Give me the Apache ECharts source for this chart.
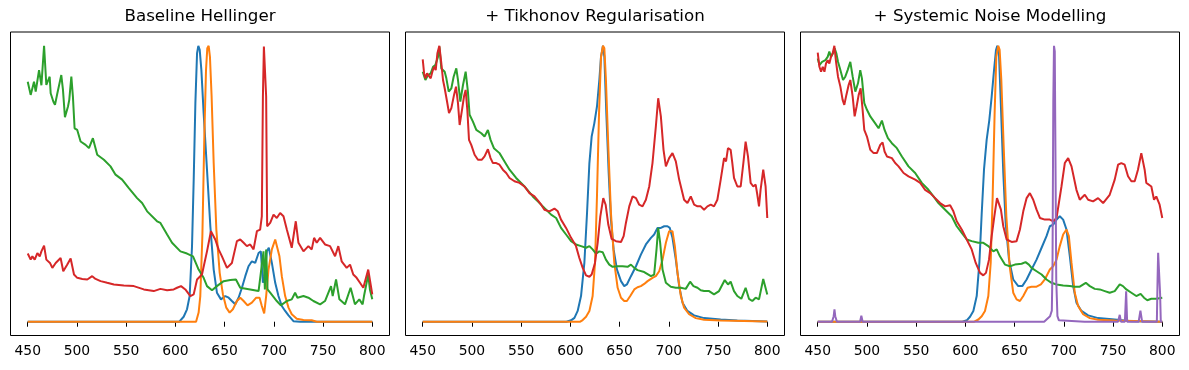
<!DOCTYPE html>
<html>
<head>
<meta charset="utf-8">
<title>Spectra</title>
<script src="https://cdn.jsdelivr.net/npm/echarts@6/dist/echarts.min.js"></script>
<style>
  html, body { margin: 0; padding: 0; background: #fff; }
  #chart { width: 1189px; height: 370px; }
</style>
</head>
<body>
<div id="chart"></div>
<script>
// tick labels and titles
const wlTicks = [450, 500, 550, 600, 650, 700, 750, 800];
const titles = ["Baseline Hellinger", "+ Tikhonov Regularisation", "+ Systemic Noise Modelling"];

// panel 1 : baseline hellinger  ([wavelength, normalised intensity])
const baseBlue = [[450,0],[604,0],[605.1,0.006],[608.4,0.018],[611.8,0.045],[614.5,0.093],[616.9,0.274],[618.6,0.515],[620.3,0.792],[622,0.973],[623.3,1],[624.7,0.985],[626.4,0.912],[628.7,0.756],[632.1,0.551],[635.5,0.346],[638.9,0.189],[642.2,0.105],[646.3,0.081],[650.7,0.093],[654.1,0.087],[657.4,0.075],[660.8,0.063],[664.2,0.087],[667.6,0.123],[671,0.165],[674.3,0.201],[677.7,0.219],[681.1,0.213],[684.5,0.249],[686.8,0.255],[688.9,0.141],[690.5,0.165],[692.9,0.255],[694.9,0.268],[698,0.213],[701.4,0.141],[704.7,0.093],[708.1,0.057],[711.5,0.039],[714.9,0.023],[719.9,0.002],[726.7,0],[800,0]];
const baseOrange = [[450,0],[621,0],[622,0.006],[623.6,0.033],[625.3,0.093],[627.4,0.31],[629.4,0.671],[631.1,0.912],[632.4,0.991],[633.8,1],[635.1,0.96],[636.8,0.816],[638.9,0.575],[641.6,0.334],[645,0.177],[648.3,0.099],[651.7,0.051],[655.1,0.033],[658.4,0.045],[662.5,0.075],[665.9,0.087],[669.3,0.075],[673.3,0.059],[677.7,0.069],[682.1,0.087],[685.5,0.087],[687.8,0.057],[690.2,0.03],[692.2,0.093],[694.6,0.189],[698,0.262],[701.4,0.298],[703,0.3],[705.7,0.237],[708.1,0.165],[711.5,0.093],[714.9,0.051],[718.2,0.027],[723.3,0.011],[730.1,0.006],[738.5,0.005],[743.6,0],[800,0]];
const baseGreen = [[450,0.87],[453,0.822],[456.4,0.87],[458.1,0.834],[461.5,0.912],[463.9,0.857],[466.6,1],[468.9,0.858],[472.3,0.888],[473.3,0.828],[476,0.798],[477.7,0.786],[480.1,0.828],[481.8,0.822],[484.1,0.894],[485.8,0.84],[487.8,0.741],[490.9,0.78],[492.2,0.804],[494.3,0.888],[495.9,0.816],[497.6,0.701],[500.3,0.695],[503.7,0.653],[508.8,0.641],[512.2,0.629],[516.2,0.665],[520.6,0.605],[527.4,0.587],[534.1,0.563],[539.2,0.533],[545.9,0.515],[552.7,0.484],[561.1,0.448],[566.2,0.43],[571.3,0.4],[581.4,0.364],[584.8,0.358],[591.6,0.316],[596.6,0.286],[605.1,0.255],[611.8,0.247],[617.9,0.237],[623.6,0.189],[628.7,0.159],[632.1,0.129],[637.2,0.114],[642.2,0.129],[649,0.147],[655.7,0.151],[661.5,0.153],[665.9,0.123],[676,0.117],[684.5,0.111],[689.5,0.255],[690.9,0.117],[692.2,0.262],[693.6,0.117],[696.3,0.105],[703,0.075],[707.1,0.059],[713.2,0.075],[718.2,0.081],[721.6,0.105],[724,0.087],[730.1,0.093],[735.1,0.087],[740.2,0.075],[747,0.063],[752,0.075],[758.1,0.129],[759.8,0.093],[763.2,0.153],[766.6,0.081],[772.3,0.063],[778,0.123],[782.4,0.063],[786.8,0.081],[788.2,0.087],[790.2,0.063],[791.6,0.093],[795.9,0.171],[797.6,0.117],[800,0.081]];
const baseRed = [[450,0.247],[453,0.225],[454.7,0.237],[457.1,0.225],[459.8,0.249],[462.2,0.237],[463.9,0.255],[466.6,0.276],[468.9,0.225],[470.9,0.231],[472.6,0.213],[475,0.195],[478.4,0.213],[483.4,0.231],[486.1,0.183],[490.2,0.207],[493.6,0.229],[497,0.171],[500.3,0.159],[505.4,0.155],[510.5,0.153],[515.5,0.165],[518.9,0.155],[524,0.147],[530.7,0.141],[537.5,0.135],[547.6,0.131],[557.8,0.129],[567.9,0.117],[578,0.111],[584.8,0.119],[591.6,0.114],[598.3,0.117],[601.7,0.123],[605.7,0.129],[610.1,0.117],[615.2,0.093],[618.6,0.099],[622,0.153],[627,0.171],[632.1,0.255],[636.1,0.328],[640.5,0.298],[643.9,0.262],[647.3,0.237],[652.4,0.195],[657.4,0.213],[662.5,0.292],[665.9,0.298],[669.3,0.286],[672.6,0.274],[676,0.28],[679.4,0.262],[682.8,0.328],[686.1,0.334],[687.8,0.382],[688.9,0.816],[689.9,0.997],[691.2,0.997],[692.2,0.816],[693.2,0.346],[696.3,0.358],[699.7,0.388],[703,0.376],[706.4,0.394],[709.8,0.382],[713.2,0.334],[718.2,0.268],[722.3,0.364],[725,0.286],[730.1,0.255],[735.1,0.274],[738.5,0.262],[740.9,0.304],[743.6,0.286],[747,0.304],[752,0.28],[757.1,0.274],[762.2,0.237],[765.5,0.274],[768.9,0.219],[774,0.195],[777.4,0.207],[780.7,0.171],[784.1,0.159],[787.5,0.141],[790.9,0.123],[795.9,0.189],[800,0.099]];

// panel 2 : + tikhonov
const tikBlue = [[450,0],[596,0],[600.7,0.005],[604.1,0.014],[607.4,0.039],[610.8,0.093],[614.2,0.213],[616.9,0.394],[619.3,0.575],[621.6,0.671],[624.3,0.719],[627,0.78],[629.4,0.876],[631.1,0.96],[633.1,1],[634.5,0.96],[636.5,0.756],[638.9,0.539],[641.2,0.37],[643.9,0.262],[647.3,0.189],[651.4,0.147],[654.7,0.129],[657.4,0.135],[661.5,0.165],[666.6,0.201],[671.6,0.243],[676.7,0.28],[681.8,0.304],[685.1,0.316],[688.5,0.34],[691.9,0.34],[695.3,0.346],[698.6,0.346],[701,0.34],[703.7,0.304],[707.1,0.225],[710.5,0.129],[713.9,0.069],[718.9,0.039],[725.7,0.023],[735.8,0.013],[752.7,0.008],[769.6,0.004],[800,0.001]];
const tikOrange = [[450,0],[610,0],[612.5,0.006],[615.9,0.018],[619.3,0.039],[622.6,0.093],[625,0.213],[627,0.454],[629.1,0.756],[631.1,0.96],[633.1,1],[634.5,0.991],[636.1,0.876],[638.5,0.635],[641.2,0.394],[644.6,0.213],[648,0.123],[651.4,0.087],[654.7,0.075],[657.4,0.075],[660.8,0.093],[664.9,0.117],[668.2,0.125],[671.6,0.129],[675,0.137],[678.4,0.147],[683.4,0.159],[686.8,0.165],[690.2,0.183],[693.6,0.225],[697,0.286],[700.3,0.328],[702,0.334],[703.7,0.328],[706.1,0.274],[708.8,0.177],[712.2,0.093],[715.5,0.051],[720.6,0.027],[727.4,0.013],[735.8,0.007],[752.7,0.004],[800,0.001]];
const tikGreen = [[450,0.906],[452.7,0.876],[455.4,0.894],[458.1,0.9],[460.5,0.924],[462.8,0.93],[465.5,0.96],[466.9,0.997],[468.9,0.918],[472.3,0.906],[474,0.882],[476.4,0.834],[479.1,0.846],[481.4,0.888],[484.1,0.918],[485.8,0.876],[488.2,0.798],[490.9,0.858],[493.6,0.906],[495.9,0.834],[497.6,0.75],[501,0.725],[504.4,0.695],[509.5,0.683],[512.8,0.671],[516.2,0.695],[518.9,0.659],[522.3,0.629],[528,0.611],[533.1,0.581],[538.2,0.551],[544.9,0.521],[553.4,0.49],[561.8,0.454],[566.9,0.436],[573.6,0.412],[580.4,0.388],[585.5,0.376],[590.5,0.34],[595.6,0.316],[600.7,0.292],[605.7,0.28],[610.8,0.274],[615.9,0.268],[619.3,0.274],[622.6,0.262],[626,0.247],[629.4,0.255],[632.8,0.252],[636.1,0.225],[639.5,0.207],[642.9,0.199],[648,0.201],[653,0.201],[658.1,0.199],[661.5,0.207],[664.9,0.195],[668.2,0.187],[675,0.18],[681.8,0.165],[685.1,0.171],[687.5,0.262],[689.2,0.34],[691.2,0.286],[693.6,0.189],[697,0.141],[702,0.127],[707.1,0.123],[712.2,0.123],[717.2,0.119],[721.6,0.145],[725,0.129],[729.1,0.123],[732.4,0.114],[735.8,0.111],[740.9,0.111],[745.9,0.099],[751,0.111],[756.8,0.151],[760.1,0.135],[762.8,0.145],[766.2,0.111],[769.6,0.093],[773.6,0.083],[778,0.123],[781.4,0.083],[784.8,0.075],[788.2,0.087],[791.6,0.081],[795.9,0.155],[800,0.099]];
const tikRed = [[450,0.951],[451.4,0.9],[452.7,0.882],[454.4,0.9],[456.1,0.9],[458.1,0.882],[459.8,0.906],[461.5,0.924],[463.2,0.912],[464.9,0.973],[466.9,1],[468.9,0.936],[470.6,0.876],[472.3,0.846],[474.7,0.798],[476.7,0.756],[479.1,0.774],[481.8,0.822],[483.8,0.852],[485.8,0.792],[487.5,0.713],[489.9,0.768],[491.9,0.816],[493.6,0.84],[495.3,0.768],[497,0.659],[499.3,0.641],[502.7,0.605],[506.1,0.587],[510.1,0.587],[512.8,0.599],[516.2,0.625],[518.9,0.593],[521.3,0.575],[524.7,0.575],[528,0.569],[531.4,0.551],[534.8,0.539],[538.2,0.521],[543.2,0.509],[548.3,0.503],[553.4,0.49],[558.4,0.466],[563.5,0.454],[566.9,0.44],[570.3,0.424],[573.6,0.406],[578.7,0.4],[583.8,0.41],[587.2,0.4],[590.5,0.37],[595.6,0.34],[600.7,0.304],[605.7,0.274],[609.1,0.231],[612.5,0.195],[615.9,0.168],[619.3,0.163],[621.6,0.171],[625,0.213],[627.7,0.286],[630.4,0.382],[633.4,0.448],[635.8,0.424],[638.5,0.352],[641.9,0.3],[646.3,0.292],[651.4,0.289],[654.1,0.31],[656.4,0.358],[659.8,0.418],[663.2,0.454],[666.6,0.448],[669.9,0.424],[673.3,0.418],[676.7,0.442],[680.1,0.49],[683.4,0.575],[686.8,0.707],[689.2,0.81],[691.9,0.744],[694.6,0.623],[697,0.563],[700.3,0.593],[703.7,0.611],[707.1,0.581],[710.5,0.515],[715.5,0.442],[718.9,0.43],[722.3,0.454],[725.7,0.424],[729.1,0.418],[732.4,0.418],[735.8,0.406],[739.2,0.418],[742.6,0.424],[745.9,0.418],[749.3,0.442],[752.7,0.515],[756.1,0.593],[758.1,0.581],[760.1,0.629],[762.8,0.623],[764.5,0.575],[766.2,0.521],[769.6,0.49],[773,0.49],[775.7,0.575],[778,0.653],[780.4,0.599],[783.1,0.503],[785.8,0.49],[788.2,0.497],[789.9,0.46],[791.6,0.418],[793.2,0.478],[795.9,0.551],[798.3,0.49],[800,0.376]];

// panel 3 : + systemic noise
const sysBlue = [[450,0],[597,0],[601.4,0.005],[604.7,0.018],[608.1,0.039],[611.5,0.093],[614.2,0.213],[616.6,0.394],[618.9,0.551],[621.6,0.659],[624.3,0.731],[626.7,0.816],[629.1,0.912],[631.1,0.985],[632.4,1],[634.1,0.973],[636.1,0.78],[638.5,0.539],[640.9,0.358],[644.3,0.225],[648.6,0.153],[653.7,0.129],[657.8,0.129],[662.2,0.153],[667.2,0.189],[672.3,0.225],[677.4,0.268],[682.4,0.31],[685.8,0.346],[689.2,0.352],[692.6,0.37],[695.9,0.382],[699.3,0.37],[702.7,0.334],[706.1,0.237],[709.5,0.129],[712.8,0.069],[717.9,0.039],[724.7,0.023],[734.8,0.013],[751.7,0.008],[768.6,0.002],[800,0]];
const sysOrange = [[450,0],[609,0],[613.2,0.008],[616.6,0.02],[619.9,0.039],[623.3,0.093],[625.7,0.213],[627.7,0.454],[629.7,0.756],[631.4,0.96],[633.4,1],[634.8,0.985],[636.5,0.876],[638.9,0.635],[641.6,0.382],[645,0.201],[648.6,0.105],[652,0.081],[655.4,0.075],[658.8,0.093],[663.2,0.123],[667.2,0.127],[672.3,0.127],[676.7,0.135],[680.7,0.153],[685.8,0.189],[689.2,0.201],[692.6,0.225],[695.9,0.274],[699.3,0.316],[702.7,0.334],[705.1,0.31],[707.8,0.213],[711.1,0.105],[714.5,0.057],[719.6,0.027],[726.4,0.013],[734.8,0.007],[751.7,0.004],[800,0]];
const sysGreen = [[450,0.954],[451.7,0.93],[454.4,0.942],[456.1,0.936],[457.8,0.948],[460.1,0.96],[461.8,0.979],[463.5,0.96],[465.5,0.973],[467.2,0.991],[468.9,0.973],[470.6,0.942],[473,0.912],[475.7,0.876],[478,0.888],[480.4,0.912],[483.1,0.942],[485.5,0.888],[488.2,0.834],[490.9,0.864],[493.2,0.912],[494.9,0.882],[497.3,0.792],[500,0.768],[503.4,0.744],[508.4,0.719],[511.8,0.701],[515.2,0.729],[517.9,0.695],[521.3,0.665],[525.3,0.647],[530.4,0.629],[535.5,0.599],[542.2,0.563],[549,0.539],[555.7,0.503],[562.5,0.478],[567.6,0.454],[572.6,0.43],[579.4,0.406],[586.1,0.382],[591.2,0.346],[596.3,0.322],[601.4,0.298],[606.4,0.292],[613.2,0.286],[618.2,0.286],[623.3,0.274],[628.4,0.255],[631.8,0.262],[635.1,0.237],[640.2,0.207],[645.3,0.201],[650.3,0.207],[657.1,0.21],[661.1,0.216],[664.5,0.207],[667.2,0.195],[672.3,0.183],[677.4,0.171],[682.4,0.153],[687.5,0.141],[692.6,0.135],[699.3,0.131],[706.1,0.129],[711.1,0.127],[716.2,0.127],[722.3,0.141],[726.4,0.129],[731.4,0.119],[736.5,0.117],[741.6,0.111],[746.6,0.105],[751.7,0.111],[756.8,0.135],[760.1,0.129],[763.5,0.117],[768.6,0.105],[773.6,0.093],[778,0.101],[781.4,0.087],[784.8,0.078],[788.9,0.083],[793.9,0.083],[800,0.087]];
const sysRed = [[450,0.975],[451.7,0.924],[453.4,0.906],[455.1,0.924],[456.8,0.906],[458.4,0.936],[460.1,0.948],[461.8,0.936],[463.5,0.96],[465.2,0.973],[466.9,1],[468.6,0.942],[470.6,0.888],[473,0.852],[475.3,0.804],[477,0.786],[479.1,0.822],[481.4,0.858],[483.1,0.876],[485.5,0.816],[487.5,0.744],[489.5,0.78],[491.6,0.822],[493.6,0.846],[495.6,0.768],[497.3,0.695],[500,0.671],[503.4,0.623],[506.8,0.611],[510.1,0.611],[513.5,0.641],[515.9,0.65],[517.9,0.617],[520.3,0.599],[525.3,0.593],[528.7,0.575],[532.1,0.563],[537.2,0.539],[542.2,0.527],[549,0.515],[554.1,0.503],[559.1,0.478],[564.2,0.466],[569.3,0.448],[574.3,0.43],[579.4,0.418],[584.5,0.422],[587.8,0.4],[591.2,0.364],[596.3,0.334],[599.7,0.31],[603,0.286],[606.4,0.262],[610.5,0.213],[614.9,0.177],[618.2,0.168],[620.9,0.177],[624,0.225],[626.7,0.31],[629.4,0.382],[632.1,0.448],[634.1,0.454],[636.1,0.406],[638.5,0.346],[641.9,0.298],[647,0.289],[652,0.292],[655.4,0.334],[658.8,0.4],[662.2,0.448],[665.5,0.466],[668.9,0.442],[672.3,0.406],[675.7,0.376],[680.7,0.37],[685.8,0.37],[689.2,0.364],[692.6,0.376],[697.6,0.49],[701,0.575],[704.4,0.593],[707.8,0.563],[712.8,0.478],[716.2,0.442],[721.3,0.46],[724.7,0.442],[729.7,0.436],[734.8,0.448],[739.9,0.43],[746.6,0.46],[751.7,0.515],[755.1,0.569],[758.4,0.575],[761.8,0.569],[765.2,0.527],[768.6,0.509],[772,0.509],[775.3,0.551],[778.7,0.611],[782.1,0.551],[783.8,0.503],[788.9,0.49],[791.6,0.442],[793.9,0.454],[797.3,0.424],[800,0.376]];
const sysPurple = [[450,0],[464.5,0],[466.2,0.02],[467,0.045],[467.8,0.02],[469.5,0],[483,0],[484,0.006],[485,0],[493,0],[494.3,0.022],[495.6,0],[680,0],[683,0.01],[686,0.02],[687.8,0.04],[688.5,0.2],[689.3,0.8],[690,1],[690.8,0.98],[691.5,0.6],[692.3,0.15],[693.5,0.02],[695,0.005],[697,0],[721,0],[722,0.006],[723,0],[755,0],[756.8,0.025],[758,0],[762,0],[763.3,0.11],[764.3,0],[776,0],[777.8,0.04],[779.5,0],[788,0],[789,0.006],[790,0],[794.5,0],[795.2,0.15],[795.8,0.25],[797,0.25],[797.8,0.1],[798.5,0],[800,0]];

const panels = [
  [baseBlue, baseOrange, baseGreen, baseRed],
  [tikBlue, tikOrange, tikGreen, tikRed],
  [sysBlue, sysOrange, sysGreen, sysRed, sysPurple]
];
const colors = ["#1f77b4", "#ff7f0e", "#2ca02c", "#d62728", "#9467bd"];

const lefts = [10.5, 405.5, 800.5];
const plotW = 379;

let grid = [], xAxis = [], yAxis = [], title = [], series = [];
panels.forEach((lines, i) => {
  grid.push({
    left: lefts[i], top: 32, width: plotW, height: 303.5,
    show: true, borderColor: "#000", borderWidth: 1, backgroundColor: "transparent"
  });
  title.push({
    text: titles[i],
    left: lefts[i] + plotW / 2, top: 8, textAlign: "center", padding: 0,
    textStyle: { fontFamily: "DejaVu Sans", fontSize: 16.7, fontWeight: "normal", color: "#000" }
  });
  xAxis.push({
    type: "value", gridIndex: i, min: 432.5, max: 817.5,
    axisLine: { show: false },
    splitLine: { show: false },
    axisTick: { show: true, length: 5, lineStyle: { color: "#000", width: 1 }, customValues: wlTicks },
    axisLabel: {
      customValues: wlTicks, margin: 9,
      fontFamily: "DejaVu Sans", fontSize: 13.9, color: "#000"
    }
  });
  yAxis.push({
    type: "value", gridIndex: i, min: -0.05, max: 1.05,
    axisLine: { show: false }, axisTick: { show: false },
    axisLabel: { show: false }, splitLine: { show: false }
  });
  lines.forEach((d, k) => {
    series.push({
      type: "line", xAxisIndex: i, yAxisIndex: i, data: d,
      showSymbol: false, symbol: "none", clip: true,
      lineStyle: { color: colors[k], width: 2 },
      itemStyle: { color: colors[k] }
    });
  });
});

const chart = echarts.init(document.getElementById("chart"), null, { renderer: "canvas" });
chart.setOption({
  animation: false,
  backgroundColor: "#fff",
  title: title,
  grid: grid,
  xAxis: xAxis,
  yAxis: yAxis,
  series: series
});
</script>
</body>
</html>
